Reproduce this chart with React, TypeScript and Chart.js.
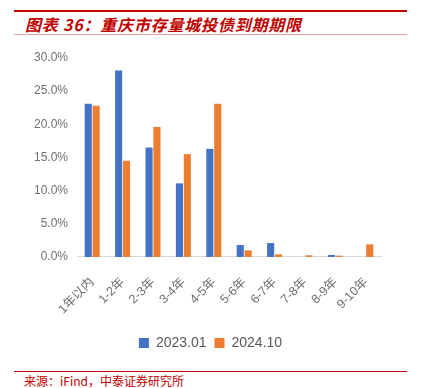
import React, { useEffect, useRef } from "react";
import { Chart, registerables } from "chart.js";

Chart.register(...registerables);

const categories = ["1年以内", "1-2年", "2-3年", "3-4年", "4-5年", "5-6年", "6-7年", "7-8年", "8-9年", "9-10年"];
const series2023 = [23.1, 28.1, 16.5, 11.1, 16.3, 1.8, 2.1, 0, 0.3, 0];
const series2024 = [22.8, 14.5, 19.6, 15.5, 23.1, 1.0, 0.4, 0.25, 0.2, 1.9];
const yTicks = [0, 5, 10, 15, 20, 25, 30];

const layoutTweaks = {
  id: "layoutTweaks",
  afterLayout(chart: any) {
    if (chart.scales.y) chart.scales.y.left = 0;
    if (chart.legend) {
      chart.legend.top -= 7;
      chart.legend.bottom -= 7;
    }
  },
};

export default function App() {
  const ref = useRef<HTMLCanvasElement | null>(null);
  useEffect(() => {
    if (!ref.current) return;
    const chart = new Chart(ref.current, {
      type: "bar",
      data: {
        labels: categories,
        datasets: [
          {
            label: "2023.01",
            data: series2023,
            backgroundColor: "#4472C4",
            borderWidth: 0,
            categoryPercentage: 0.52,
            barPercentage: 0.9,
          },
          {
            label: "2024.10",
            data: series2024,
            backgroundColor: "#ED7D31",
            borderWidth: 0,
            categoryPercentage: 0.52,
            barPercentage: 0.9,
          },
        ],
      },
      plugins: [layoutTweaks],
      options: {
        animation: false,
        responsive: true,
        maintainAspectRatio: false,
        layout: { padding: { left: 40, right: 43, top: 18, bottom: 0 } },
        plugins: {
          legend: {
            position: "bottom",
            labels: {
              boxWidth: 10,
              boxHeight: 10,
              color: "#595959",
              font: { family: "'Liberation Sans', Arial, sans-serif", size: 14 },
              padding: 8,
            },
          },
          tooltip: { enabled: false },
        },
        scales: {
          x: {
            grid: { display: false, drawTicks: false },
            border: { color: "#d9d9d9", width: 1 },
            ticks: {
              color: "#6f6f6f",
              font: { family: "'Liberation Sans', 'Noto Sans CJK SC', sans-serif", size: 12.5 },
              maxRotation: 45,
              minRotation: 45,
              padding: 18,
              autoSkip: false,
            },
          },
          y: {
            min: 0,
            max: 30,
            afterBuildTicks: (axis: any) => {
              axis.ticks = yTicks.map((v) => ({ value: v }));
            },
            afterFit: (axis: any) => {
              axis.width = 37;
            },
            grid: { display: false, drawTicks: false },
            border: { display: false },
            ticks: {
              color: "#6f6f6f",
              font: { family: "'Liberation Sans', Arial, sans-serif", size: 12 },
              padding: 9,
              callback: (v: any) => Number(v).toFixed(1) + "%",
            },
          },
        },
      },
    });
    return () => chart.destroy();
  }, []);

  return (
    <div style={{ position: "fixed", left: 0, top: 0, width: 424, height: 388, background: "#fff", overflow: "hidden" }}>
      <div style={{ position: "absolute", left: 0, top: 40, width: 424, height: 327 }}>
        <canvas ref={ref} />
      </div>
      <div style={{ position: "absolute", left: 14, top: 10, width: 393, height: 2, background: "#c00000" }} />
      <div
        style={{
          position: "absolute",
          left: 25,
          top: 13,
          fontFamily: "'Noto Sans CJK SC', sans-serif",
          fontWeight: 700,
          fontStyle: "italic",
          fontSize: 16,
          letterSpacing: "0.8px",
          color: "#c00000",
          whiteSpace: "nowrap",
          lineHeight: "22px",
        }}
      >
        图表 36：重庆市存量城投债到期期限
      </div>
      <div style={{ position: "absolute", left: 14, top: 34, width: 393, height: 1, background: "#e8a0a0" }} />
      <div style={{ position: "absolute", left: 14, top: 371, width: 393, height: 1, background: "#c00000" }} />
      <div
        style={{
          position: "absolute",
          left: 24,
          top: 373,
          fontFamily: "'Noto Sans CJK SC', sans-serif",
          fontSize: 12,
          color: "#c00000",
          whiteSpace: "nowrap",
          lineHeight: "16px",
        }}
      >
        来源：iFind，中泰证券研究所
      </div>
    </div>
  );
}
